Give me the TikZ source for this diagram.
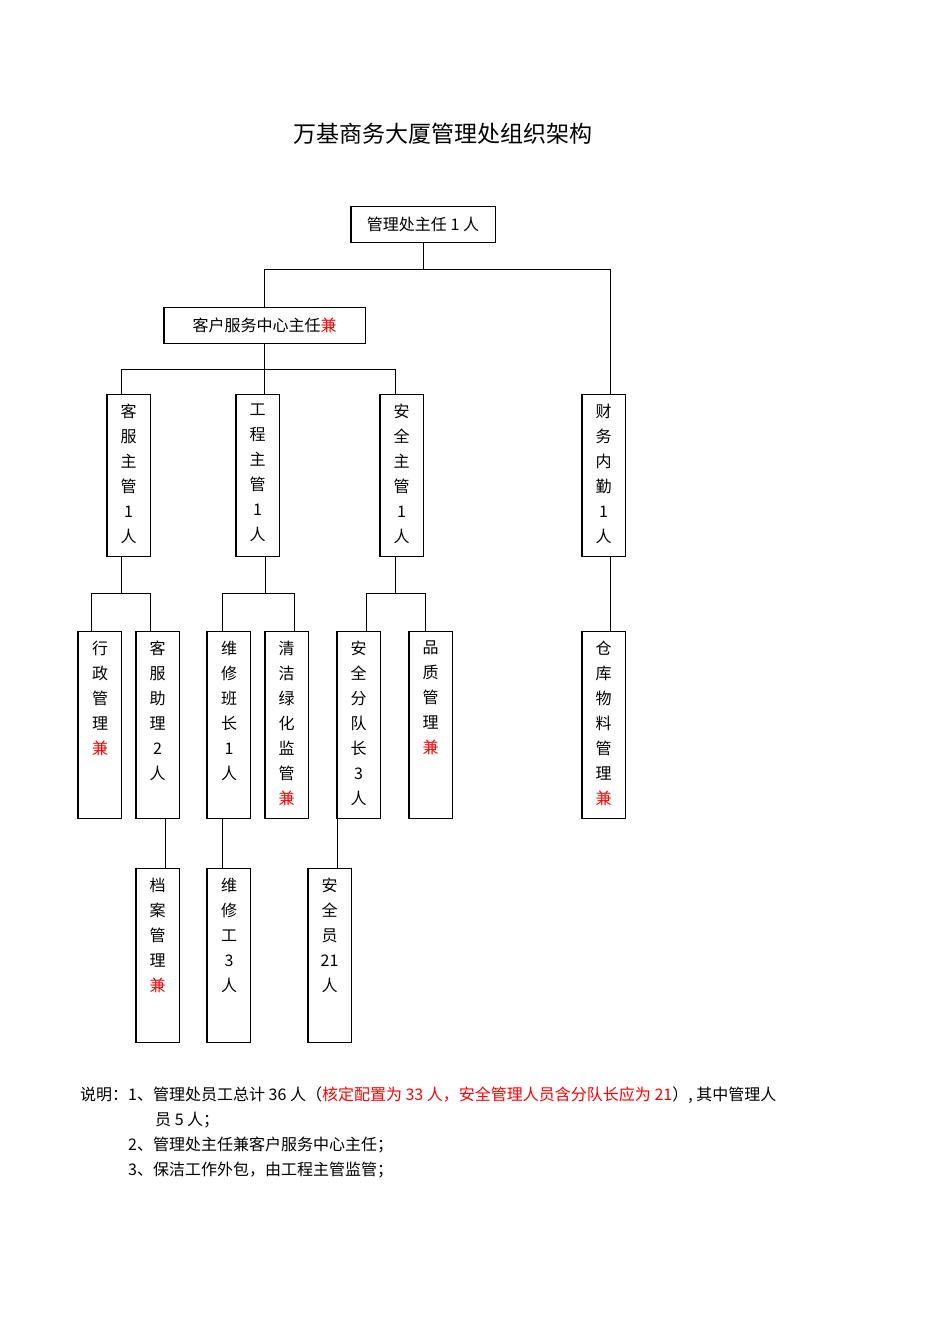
\documentclass[tikz,border=0pt]{standalone}
\usepackage{fontspec}
\setmainfont{Noto Sans CJK SC}
\usetikzlibrary{calc,positioning}
\newcommand{\jian}{\textcolor{red}{兼}}
\newcommand{\shd}[1]{\draw[line width=1.6pt] (#1.north west) -- (#1.south west) -- (#1.south east);}
\begin{document}
\begin{tikzpicture}[x=1pt,y=-1pt,
  box/.style={draw,line width=.8pt,inner sep=0pt},
  txt/.style={anchor=north,align=center,font=\fontsize{16}{25}\selectfont,inner sep=0pt},
  ln/.style={line width=.8pt}]
  \useasboundingbox (0,0) rectangle (950,1344);
  \node[font=\fontsize{23}{26}\selectfont] (title) at (443,134) {万基商务大厦管理处组织架构};
  % top levels
  \node[box,minimum width=144pt,minimum height=36pt,font=\fontsize{16}{18}\selectfont] (zr) at (423,224) {管理处主任 1 人};
  \node[box,minimum width=201pt,minimum height=36pt,font=\fontsize{16}{18}\selectfont] (kz) at (264.5,325) {客户服务中心主任\jian};
  \shd{zr} \shd{kz}
  % supervisors
  \foreach \n/\x/\t in {kf/128.5/客\\服\\主\\管\\1\\人, gc/257.5/工\\程\\主\\管\\1\\人, aq/401.5/安\\全\\主\\管\\1\\人, cw/603.5/财\\务\\内\\勤\\1\\人}{
    \node[box,minimum width=43pt,minimum height=162pt] (\n) at (\x,475) {};
    \shd{\n}
    \node[txt] at ($(\n.north)+(0,10)$) {\t};
  }
  % staff
  \foreach \n/\x/\t in {xz/100/行\\政\\管\\理\\\jian, kzl/157.5/客\\服\\助\\理\\2\\人, wb/229/维\\修\\班\\长\\1\\人, qj/286.5/清\\洁\\绿\\化\\监\\管\\\jian, fd/358.5/安\\全\\分\\队\\长\\3\\人, pz/430.5/品\\质\\管\\理\\\jian, ck/603.5/仓\\库\\物\\料\\管\\理\\\jian}{
    \node[box,minimum width=43pt,minimum height=187pt] (\n) at (\x,724.5) {};
    \shd{\n}
    \node[txt] at ($(\n.north)+(0,10)$) {\t};
  }
  \foreach \n/\x/\t in {da/157.5/档\\案\\管\\理\\\jian, wx/229/维\\修\\工\\3\\人, ay/329.5/安\\全\\员\\21\\人}{
    \node[box,minimum width=43pt,minimum height=174pt] (\n) at (\x,955) {};
    \shd{\n}
    \node[txt] at ($(\n.north)+(0,10)$) {\t};
  }
  % connectors
  \draw[ln] (zr.south) -- ++(0,27) coordinate (j1);
  \draw[ln] (kz.north) |- (j1) -| (cw.north -| 610,0);
  \draw[ln] (kz.south) -- ++(0,26) coordinate (j2);
  \draw[ln] (kf.north -| 121,0) |- (j2) -| (aq.north -| 395,0);
  \draw[ln] (j2) -- (gc.north -| j2);
  % staff level
  \draw[ln] (kf.south -| 121,0) -- ++(0,37) coordinate (j3);
  \draw[ln] (xz.north -| 91,0) |- (j3) -| (kzl.north -| 150,0);
  \draw[ln] (gc.south -| 265,0) -- ++(0,37) coordinate (j4);
  \draw[ln] (wb.north -| 222,0) |- (j4) -| (qj.north -| 294,0);
  \draw[ln] (aq.south -| 395,0) -- ++(0,37) coordinate (j5);
  \draw[ln] (fd.north -| 366,0) |- (j5) -| (pz.north -| 425,0);
  \draw[ln] (cw.south -| 610,0) -- (ck.north -| 610,0);
  \draw[ln] (kzl.south -| 165,0) -- (da.north -| 165,0);
  \draw[ln] (wb.south -| 222,0) -- (wx.north -| 222,0);
  \draw[ln] (fd.south -| 337,0) -- (ay.north -| 337,0);
  % notes
  \node[anchor=north west,align=left,font=\fontsize{16}{25}\selectfont,inner sep=0pt] (note) at (80,1087)
  {说明：1、管理处员工总计 36 人（\textcolor{red}{核定配置为 33 人，安全管理人员含分队长应为 21}）, 其中管理人\\
  \hspace*{75pt}员 5 人；\\
  \hspace*{48pt}2、管理处主任兼客户服务中心主任；\\
  \hspace*{48pt}3、保洁工作外包，由工程主管监管；};
\end{tikzpicture}
\end{document}
